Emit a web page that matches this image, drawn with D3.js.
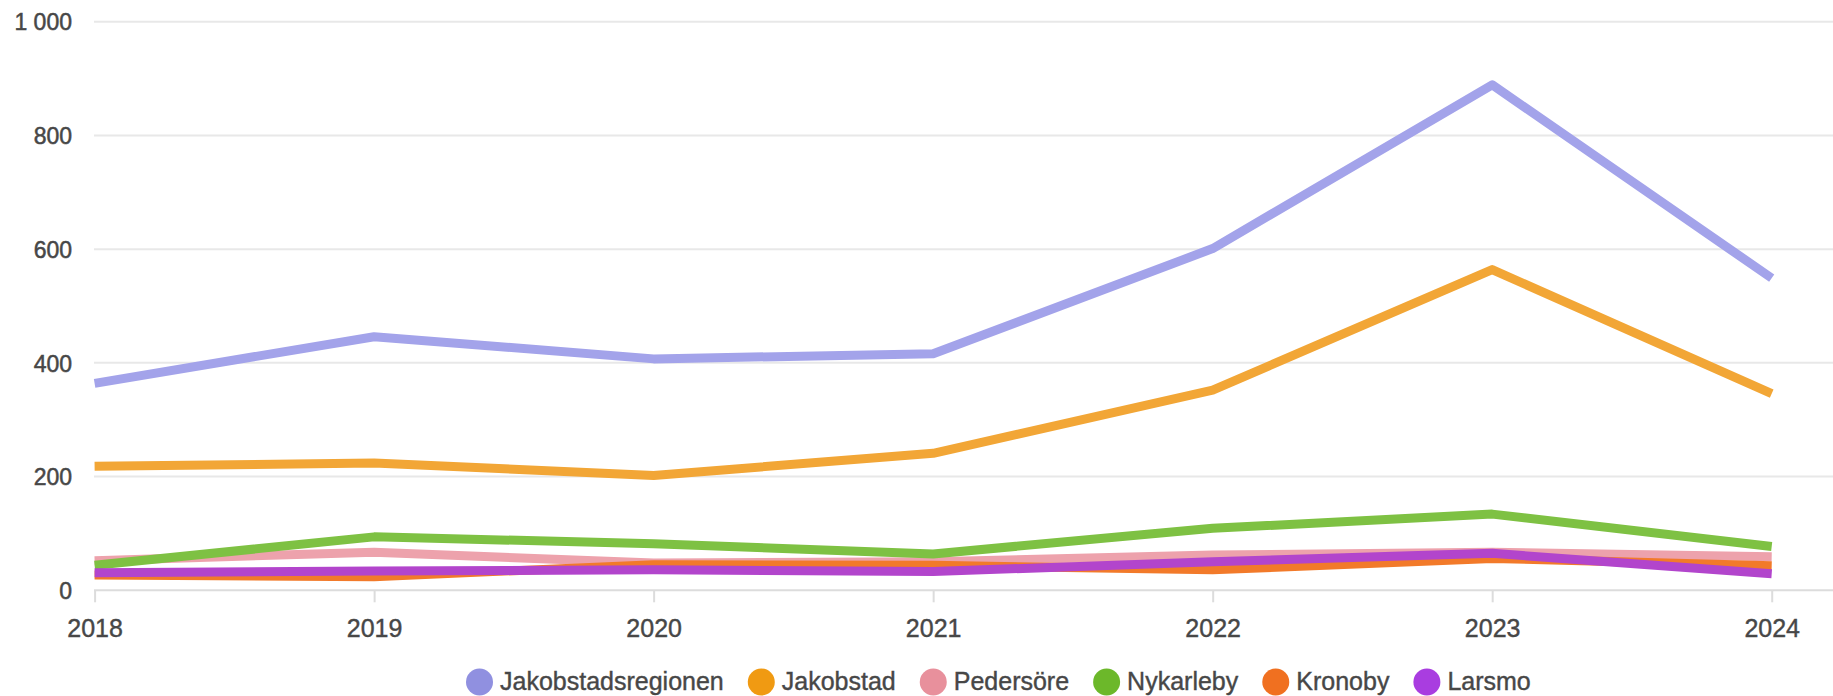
<!DOCTYPE html>
<html>
<head>
<meta charset="utf-8">
<script src="https://cdn.jsdelivr.net/npm/d3@7"></script>
<style>
  html, body { margin: 0; padding: 0; background: #ffffff; }
  svg { display: block; }
  text { font-family: "Liberation Sans", Arial, sans-serif; }
</style>
</head>
<body>
<svg id="chart" width="1833" height="696"></svg>
<script>
// ---- data ----
const years = [2018, 2019, 2020, 2021, 2022, 2023, 2024];
const yTicks = [0, 200, 400, 600, 800, 1000];
const seriesNames = ["Jakobstadsregionen", "Jakobstad", "Pedersöre", "Nykarleby", "Kronoby", "Larsmo"];
const jakobstadsregionen = [364, 446, 407, 416, 601, 889, 549];
const jakobstad = [218, 224, 202, 241, 352, 564, 346];
const pedersore = [52, 67, 48, 50, 62, 67, 59];
const nykarleby = [44, 94, 82, 64, 109, 134, 77];
const kronoby = [27, 24, 45, 44, 36, 56, 43];
const larsmo = [31, 34, 36, 33, 50, 65, 29];
const lineColors = ["#a3a3ea", "#f2a636", "#eda2ac", "#7ec143", "#f27a2a", "#b245cc"];
const legendColors = ["#9090e0", "#f09a12", "#e8909c", "#6cb82a", "#f07020", "#a93de0"];

const seriesValues = [jakobstadsregionen, jakobstad, pedersore, nykarleby, kronoby, larsmo];

const svg = d3.select("#chart");
const W = 1833;

const x = d3.scalePoint().domain(years).range([94.6, 1771.7]);
const y = d3.scaleLinear().domain([0, 1000]).range([590.3, 21.7]);

const textColor = "#474747";

// gridlines
const grid = svg.append("g");
grid.selectAll("line").data(yTicks).join("line")
  .attr("x1", 94).attr("x2", W)
  .attr("y1", d => y(d)).attr("y2", d => y(d))
  .attr("stroke", d => d === 0 ? "#dcdcdc" : "#e8e8e8")
  .attr("stroke-width", 2);

// y axis labels
const yAxis = d3.axisLeft(y).tickValues(yTicks).tickSize(0).tickPadding(0)
  .tickFormat(d => d3.format(",")(d).replace(/,/g, " "));
const yg = svg.append("g").attr("transform", "translate(72,0)").call(yAxis);
yg.select(".domain").remove();
yg.selectAll("text")
  .attr("fill", textColor)
  .attr("stroke", textColor).attr("stroke-width", 0.5)
  .style("font-size", "23px")
  .style("font-family", "'Liberation Sans', Arial, sans-serif")
  .attr("dy", "0.36em");

// x axis
const xAxis = d3.axisBottom(x).tickSize(12).tickPadding(17).tickFormat(d3.format("d"));
const xg = svg.append("g").attr("transform", `translate(0,${y(0)})`).call(xAxis);
xg.select(".domain").remove();
xg.selectAll(".tick line").attr("stroke", "#dcdcdc").attr("stroke-width", 2);
xg.selectAll("text")
  .attr("fill", textColor)
  .attr("stroke", textColor).attr("stroke-width", 0.4)
  .style("font-size", "25px")
  .style("font-family", "'Liberation Sans', Arial, sans-serif");

// lines
const line = d3.line().x((d, i) => x(years[i])).y(d => y(d));
svg.append("g").selectAll("path").data(seriesValues).join("path")
  .attr("d", d => line(d))
  .attr("fill", "none")
  .attr("stroke", (d, i) => lineColors[i])
  .attr("stroke-width", 9)
  .attr("stroke-linejoin", "round")
  .attr("stroke-linecap", "butt");

// legend
const legend = svg.append("g");
let lx = 466;
const ly = 682;
seriesNames.forEach((name, i) => {
  const g = legend.append("g");
  g.append("circle").attr("cx", lx + 13.5).attr("cy", ly).attr("r", 13.5).attr("fill", legendColors[i]);
  const t = g.append("text").attr("x", lx + 34).attr("y", 690)
    .attr("fill", textColor).attr("stroke", textColor).attr("stroke-width", 0.4)
    .style("font-size", "25px").text(name);
  const w = t.node().getComputedTextLength();
  lx = lx + 34 + w + 24;
});
</script>
</body>
</html>
